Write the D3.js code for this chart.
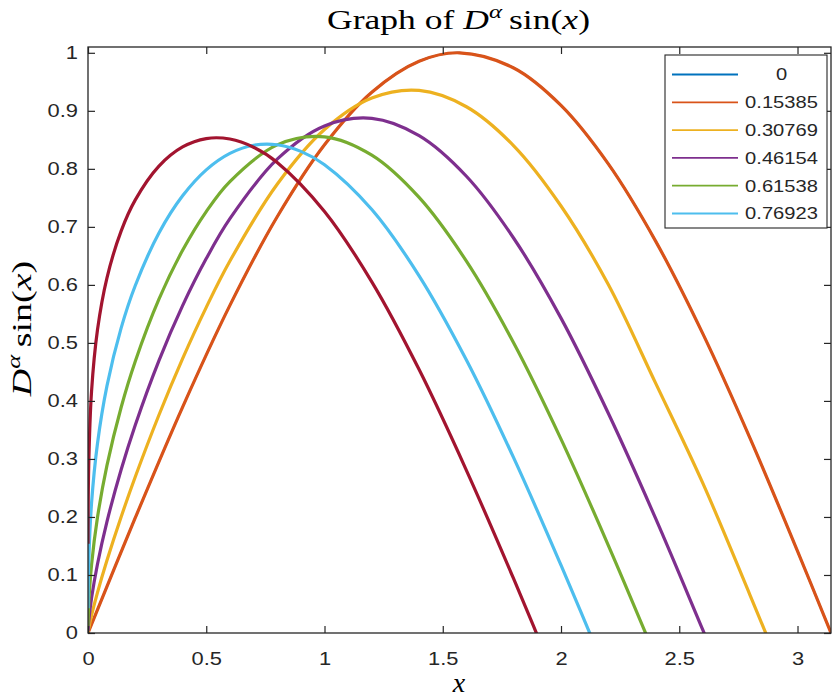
<!DOCTYPE html>
<html>
<head>
<meta charset="utf-8">
<script src="https://cdn.jsdelivr.net/npm/d3@7"></script>
<style>
  body { margin: 0; background: #ffffff; }
  svg { display: block; }
</style>
</head>
<body>
<svg id="chart" width="837" height="700"></svg>
<script>
// ---------------- DATA ----------------
const xTicks = [0, 0.5, 1, 1.5, 2, 2.5, 3];
const xTickLabels = ["0", "0.5", "1", "1.5", "2", "2.5", "3"];
const yTicks = [0, 0.1, 0.2, 0.3, 0.4, 0.5, 0.6, 0.7, 0.8, 0.9, 1];
const yTickLabels = ["0", "0.1", "0.2", "0.3", "0.4", "0.5", "0.6", "0.7", "0.8", "0.9", "1"];
const legendLabels = ["0", "0.15385", "0.30769", "0.46154", "0.61538", "0.76923"];

// sin(x) curve (drawn blue underneath and orange on top)
const xOrange = [0, 0.2, 0.4, 0.6, 0.8, 1.0, 1.2, 1.4, 1.5708, 1.8, 2.0, 2.2, 2.4, 2.6, 2.8, 3.0, 3.1416];
const yOrange = [0, 0.19867, 0.38942, 0.56464, 0.71736, 0.84147, 0.93204, 0.98545, 1.0, 0.97385, 0.90930, 0.80850, 0.67546, 0.51550, 0.33499, 0.14112, 0];

const xYellow = [0.0002, 0.003, 0.015, 0.04, 0.08, 0.14, 0.2, 0.3, 0.4, 0.5, 0.6, 0.8, 1.0, 1.2, 1.4, 1.6, 1.8, 2.0, 2.2, 2.4, 2.6, 2.8, 3.0];
const yYellow = [0.0008, 0.0078, 0.0303, 0.0695, 0.1248, 0.1999, 0.2692, 0.3757, 0.4729, 0.5613, 0.6411, 0.7735, 0.8678, 0.9220, 0.9351, 0.9070, 0.8397, 0.7360, 0.6006, 0.4306, 0.2578, 0.0646, -0.1333];

const xPurple = [0.0002, 0.003, 0.015, 0.04, 0.08, 0.14, 0.2, 0.3, 0.4, 0.5, 0.6, 0.8, 1.0, 1.2, 1.4, 1.6, 1.8, 2.0, 2.2, 2.4, 2.6, 2.8];
const yPurple = [0.0030, 0.0198, 0.0602, 0.1186, 0.1916, 0.2814, 0.3586, 0.4695, 0.5642, 0.6453, 0.7141, 0.8167, 0.8740, 0.8870, 0.8572, 0.7872, 0.6804, 0.5427, 0.3787, 0.1975, 0.0048, -0.1897];

const xGreen = [0.0002, 0.003, 0.015, 0.04, 0.08, 0.14, 0.2, 0.3, 0.4, 0.5, 0.6, 0.8, 1.0, 1.2, 1.4, 1.6, 1.8, 2.0, 2.2, 2.4];
const yGreen = [0.0115, 0.0493, 0.1173, 0.1989, 0.2885, 0.3887, 0.4685, 0.5754, 0.6596, 0.7264, 0.7781, 0.8413, 0.8552, 0.8236, 0.7507, 0.6409, 0.4999, 0.3342, 0.1512, -0.0414];

const xCyan = [0.0002, 0.003, 0.015, 0.04, 0.08, 0.14, 0.2, 0.3, 0.4, 0.5, 0.6, 0.7, 0.8, 0.9, 1.0, 1.2, 1.4, 1.6, 1.8, 2.0, 2.2];
const yCyan = [0.0425, 0.1206, 0.2238, 0.3263, 0.4254, 0.5254, 0.5989, 0.6894, 0.7535, 0.7982, 0.8266, 0.8406, 0.8415, 0.8301, 0.8072, 0.7300, 0.6157, 0.4706, 0.3017, 0.1168, -0.0764];

const xRed = [0.0002, 0.003, 0.015, 0.04, 0.08, 0.14, 0.2, 0.3, 0.4, 0.5, 0.6, 0.7, 0.8, 1.0, 1.2, 1.4, 1.6, 1.8, 2.0];
const yRed = [0.1538, 0.2874, 0.4166, 0.5222, 0.6117, 0.6927, 0.7465, 0.8047, 0.8377, 0.8522, 0.8514, 0.8373, 0.8111, 0.7266, 0.6052, 0.4540, 0.2804, 0.0931, -0.1025];

// ---------------- STYLE ----------------
const seriesColors = ["#0072BD", "#D95319", "#EDB120", "#7E2F8E", "#77AC30", "#4DBEEE", "#A2142F"];
const seriesWidths = [2, 3.2, 3.2, 3.2, 3.2, 3.2, 3.2];
const axisColor = "#262626";
const sansFont = "'Liberation Sans', Arial, Helvetica, sans-serif";
const serifFont = "'Liberation Serif', 'Times New Roman', serif";

const series = [
  { x: xOrange, y: yOrange },
  { x: xOrange, y: yOrange },
  { x: xYellow, y: yYellow },
  { x: xPurple, y: yPurple },
  { x: xGreen,  y: yGreen },
  { x: xCyan,   y: yCyan },
  { x: xRed,    y: yRed }
];

const plotL = 88, plotR = 831, plotT = 47, plotB = 633;
const svg = d3.select("#chart");
svg.append("rect").attr("width", 837).attr("height", 700).attr("fill", "#ffffff");

const xScale = d3.scaleLinear().domain([0, Math.PI]).range([plotL, plotR]);
const yScale = d3.scaleLinear().domain([0, 1.01]).range([plotB, plotT]);

svg.append("defs").append("clipPath").attr("id", "plotClip")
  .append("rect").attr("x", plotL).attr("y", plotT).attr("width", plotR - plotL).attr("height", plotB - plotT);

const lineGen = d3.line()
  .x(d => xScale(d[0]))
  .y(d => yScale(d[1]))
  .curve(d3.curveCatmullRom.alpha(0.5));

const curves = svg.append("g").attr("clip-path", "url(#plotClip)");
series.forEach((s, k) => {
  const pts = s.x.map((v, i) => [v, s.y[i]]);
  curves.append("path")
    .attr("d", lineGen(pts))
    .attr("fill", "none")
    .attr("stroke", seriesColors[k])
    .attr("stroke-width", seriesWidths[k])
    .attr("stroke-linejoin", "round")
    .attr("stroke-linecap", "butt");
});

function styleAxis(g) {
  g.select(".domain").remove();
  g.selectAll(".tick line").attr("stroke", axisColor).attr("stroke-width", 1.2);
  g.selectAll(".tick text").attr("fill", axisColor);
  g.attr("font-family", sansFont).attr("font-size", 17.5);
}
function stretchText(sel, k) {
  sel.each(function () {
    const w = this.getComputedTextLength();
    if (w > 0) {
      d3.select(this).attr("textLength", w * k).attr("lengthAdjust", "spacingAndGlyphs");
    }
  });
}

const gBottom = svg.append("g").attr("transform", `translate(0,${plotB})`)
  .call(d3.axisBottom(xScale).tickValues(xTicks).tickFormat((d, i) => xTickLabels[i])
    .tickSizeInner(-7).tickSizeOuter(0).tickPadding(20));
styleAxis(gBottom);

const gLeft = svg.append("g").attr("transform", `translate(${plotL},0)`)
  .call(d3.axisLeft(yScale).tickValues(yTicks).tickFormat((d, i) => yTickLabels[i])
    .tickSizeInner(-7).tickSizeOuter(0).tickPadding(10));
styleAxis(gLeft);

const gTop = svg.append("g").attr("transform", `translate(0,${plotT})`)
  .call(d3.axisTop(xScale).tickValues(xTicks).tickFormat("").tickSizeInner(-7).tickSizeOuter(0));
styleAxis(gTop);

const gRight = svg.append("g").attr("transform", `translate(${plotR},0)`)
  .call(d3.axisRight(yScale).tickValues(yTicks).tickFormat("").tickSizeInner(-7).tickSizeOuter(0));
styleAxis(gRight);

stretchText(gBottom.selectAll(".tick text"), 1.25);
stretchText(gLeft.selectAll(".tick text"), 1.25);

svg.append("rect")
  .attr("x", plotL).attr("y", plotT).attr("width", plotR - plotL).attr("height", plotB - plotT)
  .attr("fill", "none").attr("stroke", axisColor).attr("stroke-width", 1.3);

function mathLabel(parent, prefix, fontSize) {
  const t = parent.append("text").attr("text-anchor", "middle")
    .attr("font-family", serifFont).attr("font-size", fontSize).attr("fill", "#000");
  if (prefix) t.append("tspan").text(prefix);
  t.append("tspan").attr("font-style", "italic").text("D");
  t.append("tspan").attr("font-style", "italic").attr("font-size", fontSize * 0.7).attr("dy", -fontSize * 0.4).text("α");
  t.append("tspan").attr("dy", fontSize * 0.4).text("\u2009sin(");
  t.append("tspan").attr("font-style", "italic").text("x");
  t.append("tspan").text(")");
  return t;
}
const titleG = svg.append("g").attr("transform", "translate(458.5,29)");
const titleInner = titleG.append("g");
const titleText = mathLabel(titleInner, "Graph of ", 28);
const tw = titleText.node().getBBox().width;
titleInner.attr("transform", `scale(${263 / tw},1)`);

const yLabG = svg.append("g").attr("transform", "translate(31,328.5) rotate(-90)");
const yLabInner = yLabG.append("g");
const yLabText = mathLabel(yLabInner, "", 28);
const yw = yLabText.node().getBBox().width;
yLabInner.attr("transform", `scale(${137 / yw},1)`);

svg.append("text").attr("x", 459).attr("y", 692).attr("text-anchor", "middle")
  .attr("font-family", serifFont).attr("font-size", 28).attr("font-style", "italic")
  .attr("fill", "#000").text("x");

const legX = 665, legY = 55, legW = 162, legH = 173;
const legend = svg.append("g");
legend.append("rect").attr("x", legX).attr("y", legY).attr("width", legW).attr("height", legH)
  .attr("fill", "#ffffff").attr("stroke", axisColor).attr("stroke-width", 1.1);
legendLabels.forEach((lab, i) => {
  const cy = 74.5 + i * 27.8;
  legend.append("line").attr("x1", 672).attr("x2", 738).attr("y1", cy).attr("y2", cy)
    .attr("stroke", seriesColors[i]).attr("stroke-width", 1.8);
  legend.append("text").attr("class", "legtext").attr("x", 781.5).attr("y", cy).attr("dy", "0.36em")
    .attr("text-anchor", "middle").attr("font-family", sansFont).attr("font-size", 16.5)
    .attr("fill", axisColor).text(lab);
});
stretchText(legend.selectAll(".legtext"), 1.22);
</script>
</body>
</html>
